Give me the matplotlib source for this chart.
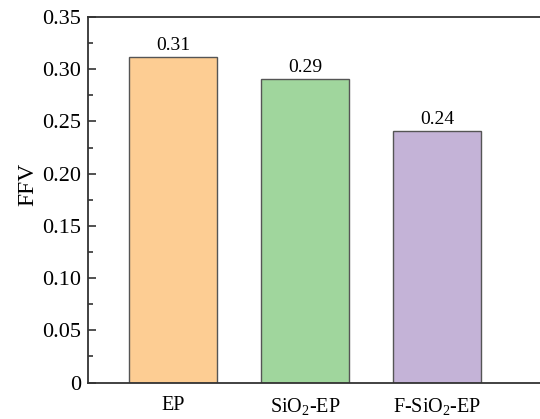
import matplotlib
matplotlib.use("Agg")
import matplotlib.pyplot as plt
from matplotlib.ticker import MultipleLocator, FuncFormatter

categories = ["EP", "SiO$_\\mathrm{2}$-EP", "F-SiO$_\\mathrm{2}$-EP"]
values = [0.312, 0.2905, 0.2413]
labels = ["0.31", "0.29", "0.24"]
colors = ["#FDCD93", "#A0D69D", "#C4B3D7"]

plt.rcParams["font.family"] = ["Liberation Serif", "DejaVu Serif"]
plt.rcParams["mathtext.fontset"] = "custom"
plt.rcParams["mathtext.rm"] = "Liberation Serif"
plt.rcParams["mathtext.it"] = "Liberation Serif:italic"
plt.rcParams["mathtext.bf"] = "Liberation Serif:bold"

fig = plt.figure(figsize=(5.4, 4.19), dpi=100)
ax = fig.add_axes([88/540, (419-382.5)/419, (549-88)/540, (382.5-17)/419])

x = [1, 2, 3]
ax.bar(x, values, width=0.667, color=colors, edgecolor="#555555", linewidth=1.0)
for xi, v, lab in zip(x, values, labels):
    ax.annotate(lab, (xi, v), xytext=(0, 2), textcoords="offset points",
                ha="center", va="bottom", fontsize=14)

ax.set_xlim(0.356, 3.85)
ax.set_ylim(0, 0.35)
ax.set_xticks(x)
ax.set_xticklabels(categories, fontsize=14.5)
ax.tick_params(axis="x", length=0, pad=10)
ax.yaxis.set_major_locator(MultipleLocator(0.05))
ax.yaxis.set_minor_locator(MultipleLocator(0.025))
ax.yaxis.set_major_formatter(FuncFormatter(lambda v, p: "0" if abs(v) < 1e-9 else f"{v:.2f}"))
ax.tick_params(axis="y", which="major", direction="in", length=6, width=1.2, labelsize=16, pad=5, color="#333333")
ax.tick_params(axis="y", which="minor", direction="in", length=3.5, width=1.2, color="#333333")
ax.set_ylabel("FFV", fontsize=17)
ax.yaxis.set_label_coords(-0.108, 0.542)
for s in ["left", "bottom", "top"]:
    ax.spines[s].set_linewidth(1.3)
    ax.spines[s].set_color("#333333")
ax.spines["right"].set_visible(False)

fig.savefig("out.png", dpi=100)
